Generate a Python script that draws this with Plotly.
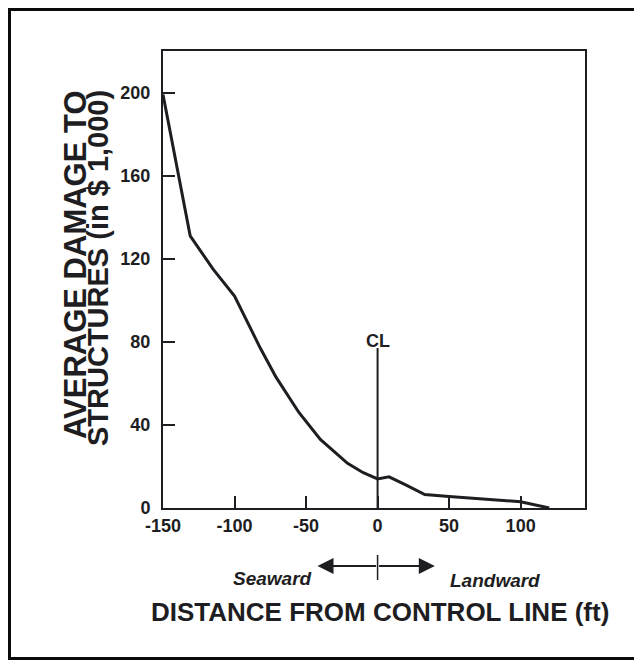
import plotly.graph_objects as go

# ---- data ----
distance_ft = [-150, -131, -115, -100, -82, -71, -55, -45, -40, -21, -10, 0, 8, 20, 33, 50, 75, 100, 120]
damage_k = [199, 131, 115, 102, 77, 63, 46, 37, 33, 21.5, 17, 14, 15, 11, 6.5, 5.5, 4.3, 3, 0]

x_tick_vals = [-150, -100, -50, 0, 50, 100, 150]
x_tick_text = ["-150", "-100", "-50", "0", "50", "100", "150"]
y_tick_vals = [0, 40, 80, 120, 160, 200]
y_tick_text = ["0", "40", "80", "120", "160", "200"]

cl_x = 0
cl_height = 77
x_range = [-150, 145]
y_range = [0, 220]

INK = "#1e1e22"
FONT = "Liberation Sans, Arial, sans-serif"

# page offset (body margin) and plot area in screen pixels
OFF = 8
L, R, T, B = 163, 585, 51, 508
W, H = 642, 661


def px(p):
    return (p - L) / (R - L)


def py(p):
    return (B - p) / (B - T)


fig = go.Figure()
fig.add_trace(go.Scatter(x=distance_ft, y=damage_k, mode="lines",
                         line=dict(color=INK, width=3), hoverinfo="skip",
                         showlegend=False))

tick_font = dict(family=FONT, size=18, color=INK, weight="bold")
in_range = [v for v in x_tick_vals if x_range[0] <= v <= x_range[1]]
fig.update_xaxes(range=x_range, showline=True, linewidth=2, linecolor=INK, mirror=True,
                 ticks="inside", ticklen=12, tickwidth=2, tickcolor=INK,
                 tickvals=in_range,
                 ticktext=[x_tick_text[x_tick_vals.index(v)] for v in in_range],
                 tickfont=tick_font, showgrid=False, zeroline=False)
fig.update_yaxes(range=y_range, showline=True, linewidth=2, linecolor=INK, mirror=True,
                 ticks="inside", ticklen=12, tickwidth=2, tickcolor=INK,
                 tickvals=y_tick_vals, ticktext=y_tick_text,
                 ticklabelstandoff=7,
                 tickfont=tick_font, showgrid=False, zeroline=False)

# tick labels beyond the plotted range
for v, t in zip(x_tick_vals, x_tick_text):
    if v > x_range[1]:
        fig.add_annotation(x=v, y=py(525), xref="x", yref="paper", text=t,
                           showarrow=False, xanchor="center", yanchor="middle",
                           font=tick_font)

shapes = []
# control line
shapes.append(dict(type="line", xref="x", yref="y", x0=cl_x, x1=cl_x, y0=0, y1=cl_height,
                   line=dict(color=INK, width=2)))
# small mark in the direction arrow
shapes.append(dict(type="line", xref="x", yref="paper", x0=cl_x, x1=cl_x,
                   y0=py(555), y1=py(580), line=dict(color=INK, width=1.5)))
# frame
shapes.append(dict(type="rect", xref="paper", yref="paper",
                   x0=px(OFF + 1.5), x1=px(639), y0=py(OFF + 1.5), y1=py(658.5),
                   line=dict(color="#0a0a0a", width=3)))
fig.update_layout(shapes=shapes)

# CL label
fig.add_annotation(x=cl_x, y=py(341), xref="x", yref="paper", text="CL", showarrow=False,
                   xanchor="center", yanchor="middle",
                   font=dict(family=FONT, size=18, color=INK, weight="bold"))

# direction arrows
for tip in (-42, 40):
    fig.add_annotation(x=tip, y=py(566), xref="x", yref="paper",
                       ax=cl_x, ay=0, axref="x", ayref="pixel",
                       text="", showarrow=True, arrowhead=2, arrowsize=1.6,
                       arrowwidth=2, arrowcolor=INK)

side_font = dict(family=FONT, size=19, color=INK, weight="bold")
fig.add_annotation(x=px(272), y=py(578), xref="paper", yref="paper", text="<i>Seaward</i>",
                   showarrow=False, xanchor="center", yanchor="middle", font=side_font)
fig.add_annotation(x=px(495), y=py(580), xref="paper", yref="paper", text="<i>Landward</i>",
                   showarrow=False, xanchor="center", yanchor="middle", font=side_font)

# axis titles
fig.add_annotation(x=px(380), y=py(612), xref="paper", yref="paper",
                   text="DISTANCE FROM CONTROL LINE (ft)", showarrow=False,
                   xanchor="center", yanchor="middle",
                   font=dict(family=FONT, size=26, color=INK, weight="bold"))
fig.add_annotation(x=px(75), y=py(265), xref="paper", yref="paper",
                   text="AVERAGE DAMAGE TO", showarrow=False, textangle=-90,
                   xanchor="center", yanchor="middle",
                   font=dict(family=FONT, size=31, color=INK, weight="bold"))
fig.add_annotation(x=px(98), y=py(268), xref="paper", yref="paper",
                   text="STRUCTURES (in $ 1,000)", showarrow=False, textangle=-90,
                   xanchor="center", yanchor="middle",
                   font=dict(family=FONT, size=29, color=INK, weight="bold"))

fig.update_layout(width=W, height=H, autosize=False,
                  margin=dict(l=L - OFF, r=W - R + OFF, t=T - OFF, b=H - B + OFF, pad=0),
                  paper_bgcolor="white", plot_bgcolor="white")

fig.write_html("out.html")
